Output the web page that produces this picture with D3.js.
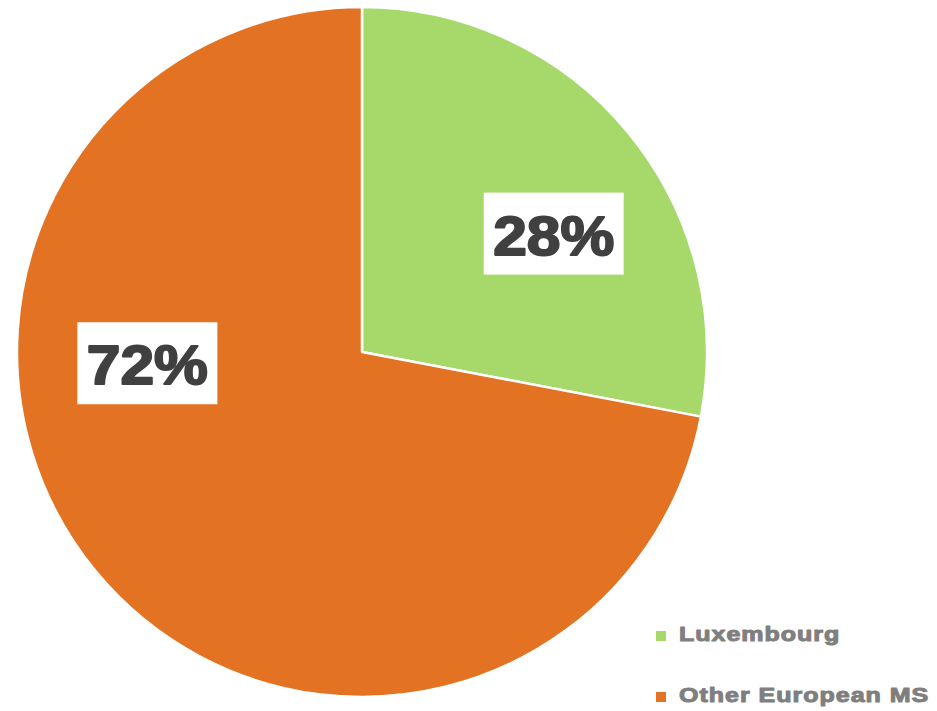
<!DOCTYPE html>
<html>
<head>
<meta charset="utf-8">
<script src="https://cdn.jsdelivr.net/npm/d3@7"></script>
<style>
  html, body { margin: 0; padding: 0; background: #fff; }
  svg { display: block; }
</style>
</head>
<body>
<svg id="chart" width="937" height="711"></svg>
<script>
// Share of the total by origin
const categories = ["Luxembourg", "Other European MS"];
const shares = [28, 72];
const colors = ["#a6d96a", "#e37222"];

// Label placement: polar position (degrees clockwise from 12 o'clock, fraction of radius)
const labelAngles = [58.3, 267];
const labelRadii = [0.653, 0.623];

const svg = d3.select("#chart");
const cx = 362, cy = 352, R = 345;

const pie = d3.pie().sort(null).value(d => d.value);
const arcs = pie(categories.map((c, i) => ({ name: c, value: shares[i], color: colors[i] })));
const arc = d3.arc().innerRadius(0).outerRadius(R);

const g = svg.append("g").attr("transform", `translate(${cx},${cy})`);

g.selectAll("path.slice")
  .data(arcs)
  .join("path")
  .attr("class", "slice")
  .attr("d", arc)
  .attr("fill", d => d.data.color)
  .attr("stroke", "#fff")
  .attr("stroke-width", 2.5)
  .attr("stroke-linejoin", "round");

// Percentage labels in white boxes
const labels = g.selectAll("g.label")
  .data(arcs)
  .join("g")
  .attr("class", "label")
  .attr("transform", (d, i) => {
    const a = labelAngles[i] * Math.PI / 180;
    const r = labelRadii[i] * R;
    return `translate(${r * Math.sin(a)},${-r * Math.cos(a)})`;
  });

labels.append("rect")
  .attr("x", -70).attr("y", -41)
  .attr("width", 140).attr("height", 82)
  .attr("fill", "#fff");

labels.append("text")
  .attr("text-anchor", "middle")
  .attr("transform", "translate(0,21) scale(1.08,1)")
  .attr("font-family", "Liberation Sans, Arial, sans-serif")
  .attr("font-weight", "bold")
  .attr("font-size", 56)
  .attr("fill", "#404040")
  .attr("stroke", "#404040")
  .attr("stroke-width", 2)
  .attr("stroke-linejoin", "round")
  .text(d => d3.format(".0f")(d.data.value) + "%");

// Legend
const legend = svg.append("g").attr("transform", "translate(656,631)");
const items = legend.selectAll("g.item")
  .data(categories)
  .join("g")
  .attr("class", "item")
  .attr("transform", (d, i) => `translate(0,${i * 61})`);

items.append("rect")
  .attr("width", 10).attr("height", 10)
  .attr("fill", (d, i) => colors[i]);

items.append("text")
  .attr("transform", "translate(23,10) scale(1.25,1)")
  .attr("font-family", "Liberation Sans, Arial, sans-serif")
  .attr("font-weight", "bold")
  .attr("font-size", 20)
  .attr("letter-spacing", 0.8)
  .attr("fill", "#7f7f7f")
  .attr("stroke", "#7f7f7f")
  .attr("stroke-width", 1)
  .attr("stroke-linejoin", "round")
  .text(d => d);
</script>
</body>
</html>
